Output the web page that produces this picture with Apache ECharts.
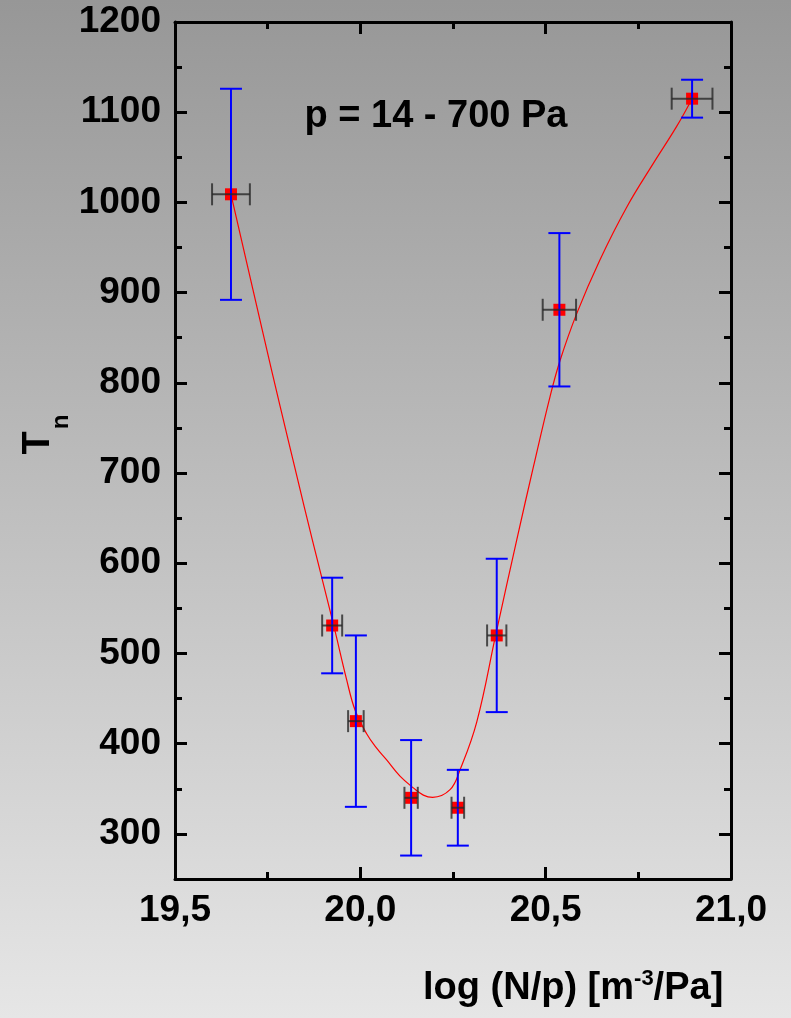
<!DOCTYPE html>
<html><head><meta charset="utf-8">
<script src="https://cdn.jsdelivr.net/npm/echarts@6/dist/echarts.min.js"></script>
<style>html,body{margin:0;padding:0;overflow:hidden;} #c{width:791px;height:1018px;}</style>
</head><body><div id="c"></div>
<script>
// ---- data ----
const xVals = [19.651, 19.924, 19.988, 20.137, 20.263, 20.368, 20.537, 20.895];
const yVals = [1009, 531, 425, 340, 329, 520, 881, 1115];
const yErr  = [117, 53, 95, 64, 42, 85, 85, 21];
const xErr  = [0.051, 0.027, 0.021, 0.018, 0.017, 0.026, 0.045, 0.055];

const curveX = [19.651, 19.738, 19.783, 19.828, 19.871, 19.927, 19.963, 19.986, 20.017, 20.044, 20.071, 20.107, 20.143, 20.170, 20.195, 20.242, 20.269, 20.314, 20.366, 20.422, 20.467, 20.512, 20.539, 20.584, 20.646, 20.719, 20.790, 20.853, 20.895];
const curveY = [1009, 854, 775, 698, 625, 533, 471, 437, 411, 395, 382, 364, 351, 343, 340.5, 349, 371, 424, 522, 626, 707, 785, 825, 877, 936, 995, 1043, 1084, 1115];

const xTickLabels = [19.5, 20.0, 20.5, 21.0];
const yMajorTicks = [300, 400, 500, 600, 700, 800, 900, 1000, 1100, 1200];
const yMinorTicks = [250, 350, 450, 550, 650, 750, 850, 950, 1050, 1150];

const xTitle = 'log (N/p) [m';
const xTitleSup = '-3';
const xTitleEnd = '/Pa]';
const yTitle = 'T';
const yTitleSub = 'n';
const annotation = 'p = 14 - 700 Pa';

// ---- chart ----
const FONT = '"Liberation Sans", Arial, Helvetica, sans-serif';
const chart = echarts.init(document.getElementById('c'), null, {renderer: 'canvas'});

const lineSt = {color: '#000', width: 3};
function xAxisCfg(pos, showLabel) {
  return {
    type: 'value', position: pos, min: 19.5, max: 21.0, interval: 0.5,
    axisLine: {show: true, onZero: false, lineStyle: lineSt},
    axisTick: {show: true, inside: true, length: 12, lineStyle: {color: '#000', width: 3}},
    minorTick: {show: true, splitNumber: 2, length: 7, lineStyle: {color: '#000', width: 3}},
    splitLine: {show: false}, minorSplitLine: {show: false},
    axisLabel: {
      show: showLabel, margin: 13, color: '#000', fontSize: 37, fontWeight: 'bold', fontFamily: FONT,
      formatter: v => xTickLabels.some(t => Math.abs(t - v) < 1e-6) ? v.toFixed(1).replace('.', ',') : ''
    }
  };
}
function yAxisCfg(pos, major, showLabel) {
  const c = {
    type: 'value', position: pos, min: 250, max: 1200, interval: 50,
    axisLine: {show: !major, onZero: false, lineStyle: lineSt},
    axisTick: {show: true, inside: true, length: major ? 12 : 7, lineStyle: {color: '#000', width: 3}},
    splitLine: {show: false},
    axisLabel: {
      show: showLabel, margin: 14, color: '#000', fontSize: 37, fontWeight: 'bold', fontFamily: FONT,
      formatter: v => yMajorTicks.indexOf(v) >= 0 ? String(v) : ''
    }
  };
  c.axisTick.customValues = major ? yMajorTicks : yMinorTicks;
  if (showLabel) c.axisLabel.customValues = yMajorTicks;
  return c;
}

const pts = xVals.map((x, i) => [x, yVals[i]]);
const vData = xVals.map((x, i) => [x, yVals[i] - yErr[i], yVals[i] + yErr[i]]);
const hData = xVals.map((x, i) => [x - xErr[i], x + xErr[i], yVals[i]]);
const cData = curveX.map((x, i) => [x, curveY[i]]);

function vErr(params, api) {
  const x = api.value(0), lo = api.value(1), hi = api.value(2);
  const a = api.coord([x, lo]), b = api.coord([x, hi]);
  const hw = 11, st = {stroke: '#0000ff', lineWidth: 2};
  return {type: 'group', children: [
    {type: 'line', shape: {x1: a[0], y1: a[1], x2: b[0], y2: b[1]}, style: st},
    {type: 'line', shape: {x1: a[0] - hw, y1: a[1], x2: a[0] + hw, y2: a[1]}, style: st},
    {type: 'line', shape: {x1: b[0] - hw, y1: b[1], x2: b[0] + hw, y2: b[1]}, style: st}
  ]};
}
function hErr(params, api) {
  const lo = api.value(0), hi = api.value(1), y = api.value(2);
  const a = api.coord([lo, y]), b = api.coord([hi, y]);
  const hh = 11, st = {stroke: 'rgba(40,40,40,0.8)', lineWidth: 2};
  return {type: 'group', children: [
    {type: 'line', shape: {x1: a[0], y1: a[1], x2: b[0], y2: b[1]}, style: st},
    {type: 'line', shape: {x1: a[0], y1: a[1] - hh, x2: a[0], y2: a[1] + hh}, style: st},
    {type: 'line', shape: {x1: b[0], y1: b[1] - hh, x2: b[0], y2: b[1] + hh}, style: st}
  ]};
}

chart.setOption({
  animation: false,
  backgroundColor: {type: 'linear', x: 0, y: 0, x2: 0, y2: 1,
    colorStops: [{offset: 0, color: '#979797'}, {offset: 1, color: '#e6e6e6'}]},
  grid: {left: 175, right: 60, top: 22, bottom: 139, containLabel: false},
  xAxis: [xAxisCfg('bottom', true), xAxisCfg('top', false)],
  yAxis: [yAxisCfg('left', false, true), yAxisCfg('left', true, false),
          yAxisCfg('right', false, false), yAxisCfg('right', true, false)],
  series: [
    {type: 'line', data: cData, smooth: 0.4, showSymbol: false, z: 2,
     lineStyle: {color: '#ff0000', width: 1.2}},
    {type: 'scatter', data: pts, symbol: 'rect', symbolSize: 12, z: 3,
     itemStyle: {color: '#ff0000', opacity: 1}},
    {type: 'custom', data: vData, renderItem: vErr, z: 4, encode: {x: 0, y: [1, 2]}},
    {type: 'custom', data: hData, renderItem: hErr, z: 5, encode: {x: [0, 1], y: 2}}
  ],
  graphic: [
    {type: 'text', x: 436, y: 117, z: 10, style: {text: annotation, fill: '#000',
      font: 'bold 38px ' + FONT, align: 'center', verticalAlign: 'middle'}},
    {type: 'text', x: 423, y: 989, z: 10, style: {
      text: '{a|' + xTitle + '}{s|' + xTitleSup + '}{a|' + xTitleEnd + '}',
      align: 'left', verticalAlign: 'middle',
      rich: {
        a: {fontSize: 38, fontWeight: 'bold', fontFamily: FONT, fill: '#000', color: '#000', lineHeight: 42},
        s: {fontSize: 22, fontWeight: 'bold', fontFamily: FONT, fill: '#000', color: '#000', lineHeight: 22, verticalAlign: 'top'}
      }}},
    {type: 'text', x: 39, y: 443, rotation: Math.PI / 2, z: 10, style: {text: yTitle, fill: '#000',
      font: 'bold 38px ' + FONT, align: 'center', verticalAlign: 'middle'}},
    {type: 'text', x: 61, y: 422, rotation: Math.PI / 2, z: 10, style: {text: yTitleSub, fill: '#000',
      font: 'bold 24px ' + FONT, align: 'center', verticalAlign: 'middle'}}
  ]
});
</script>
</body></html>
